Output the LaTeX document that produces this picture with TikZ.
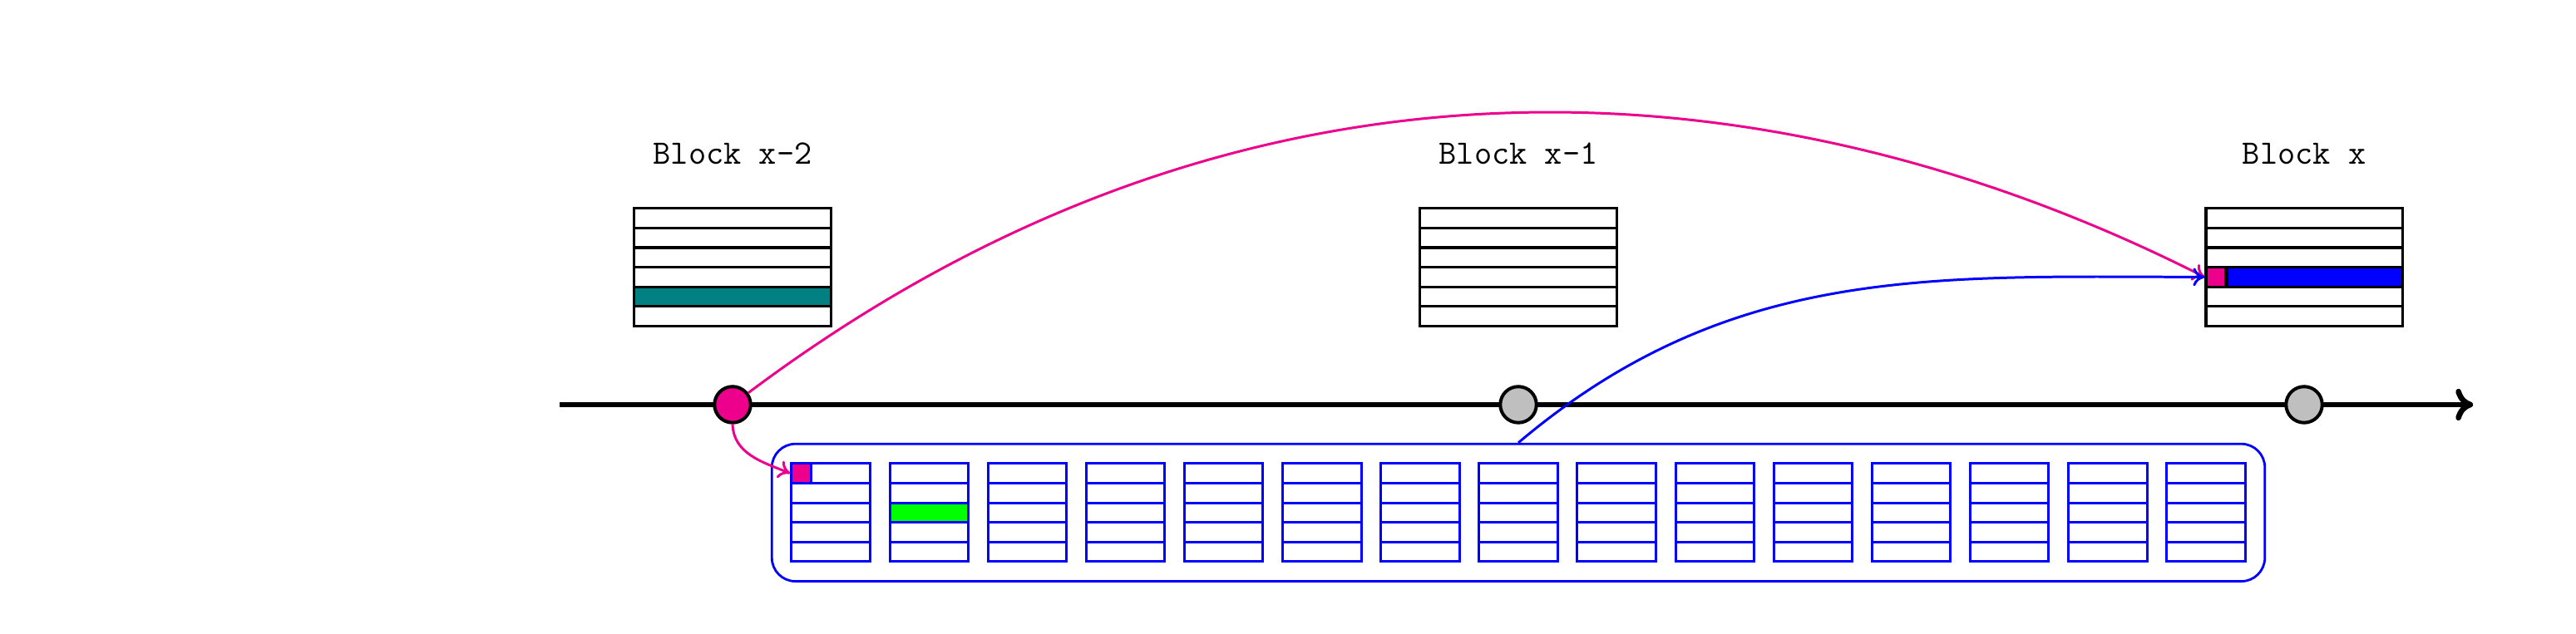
\documentclass[tikz,border=0pt]{standalone}
\usetikzlibrary{arrows.meta}
\definecolor{mag}{RGB}{236,0,140}
\definecolor{tealc}{RGB}{0,128,128}
\definecolor{grn}{RGB}{0,255,0}
\definecolor{blu}{RGB}{0,0,255}
\definecolor{lgray}{RGB}{191,191,191}
\tikzset{
  blockline/.style={draw=black, line width=0.95pt},
  smallline/.style={draw=blu, line width=0.9pt},
  tick/.style={circle, draw=black, line width=1.2pt, minimum size=0.46cm, inner sep=0pt},
  blocklabel/.style={anchor=base, inner sep=0pt, font=\fontsize{12.4}{15}\selectfont\ttfamily},
  cell/.style={minimum width=0.25cm, minimum height=0.25cm, inner sep=0pt},
  conn/.style={-{To[length=4.2pt, width=6.6pt]}, line width=0.9pt},
}
\begin{document}
\begin{tikzpicture}
\useasboundingbox (-9.323,-2.921) rectangle (23.46,5.153);
% timeline
\coordinate (tstart) at (-2.2,0);
\coordinate (tend) at (22.15,0);
\draw[-{To[length=6.3pt, width=11.5pt]}, line width=2pt] (tstart) -- (tend);
% big blocks
\foreach \c/\lab/\nm in {0/Block x-2/la, 10/Block x-1/lb, 20/Block x/lc}{
  \node[blocklabel] (\nm) at (\c,3.06) {\lab};
}
% fills
\fill[tealc] (-1.25,1.5) rectangle (1.25,1.25);
\fill[blu] (19,1.75) rectangle (21.25,1.5);
\node[cell, blockline, fill=mag] (bxm) at (18.875,1.625) {};
\foreach \c in {0,10,20}{
  \draw[blockline] (\c-1.25,1) rectangle (\c+1.25,2.5);
  \foreach \r in {1.25,1.5,1.75,2.0,2.25}{
    \draw[blockline] (\c-1.25,\r) -- (\c+1.25,\r);
  }
}
\draw[blockline] (bxm.north east) -- (bxm.south east);
% container
\node[draw=blu, line width=0.85pt, rounded corners=0.3cm, minimum width=19cm, minimum height=1.75cm, inner sep=0pt] (cont) at (10,-1.375) {};
\fill[grn] (2,-1.25) rectangle (3,-1.5);
\node[cell, smallline, fill=mag] (sm1) at (0.875,-0.875) {};
\foreach \k in {0,...,14}{
  \pgfmathsetmacro{\xl}{0.75+1.25*\k}
  \draw[smallline] (\xl,-0.75) rectangle (\xl+1,-2);
  \foreach \r in {-1,-1.25,-1.5,-1.75}{
    \draw[smallline] (\xl,\r) -- (\xl+1,\r);
  }
}
% ticks
\node[tick, fill=mag] (t0) at (0,0) {};
\node[tick, fill=lgray] (t1) at (10,0) {};
\node[tick, fill=lgray] (t2) at (20,0) {};
% connectors
\draw[conn, draw=mag] (t0) .. controls (6.77,5.08) and (13.57,4.24) .. (bxm.west);
\draw[conn, draw=blu] (cont.north) .. controls (12.69,1.79) and (15.26,1.63) .. (bxm.west);
\draw[conn, draw=mag] (t0.south) to[out=-88, in=158] (sm1.west);
\end{tikzpicture}
\end{document}
